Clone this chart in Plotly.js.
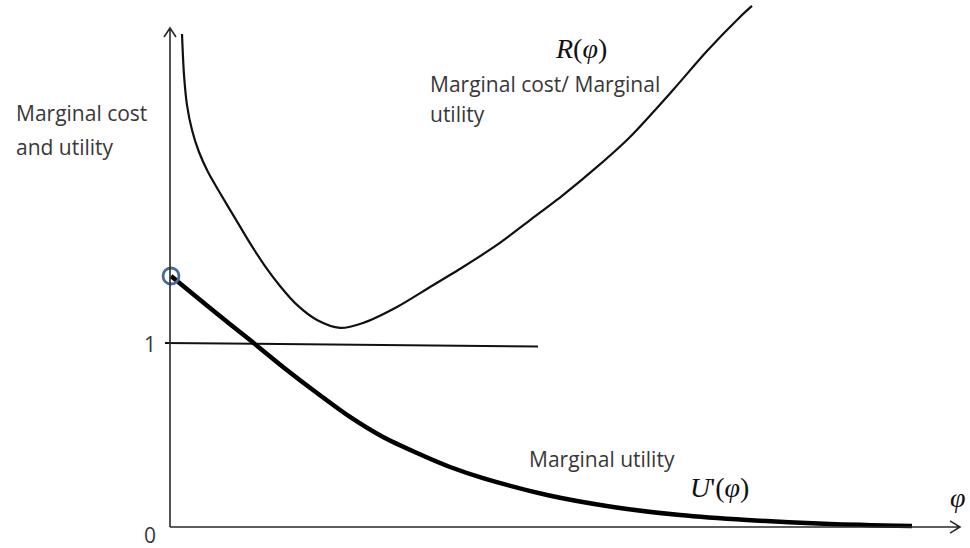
<!DOCTYPE html>
<html>
<head>
<meta charset="utf-8">
<script src="https://cdn.plot.ly/plotly-3.0.1.min.js"></script>
<style>html,body{margin:0;padding:0;background:#fff;}#chart{width:970px;height:548px;}</style>
</head>
<body>
<div id="chart"></div>
<script>
// Marginal cost curve R(phi)
const rPhi = [0.12, 0.14, 0.17, 0.22, 0.29, 0.38, 0.50, 0.65, 0.80, 0.95, 1.10, 1.27, 1.47, 1.70, 1.93, 2.27, 2.60, 2.93, 3.27, 3.60, 3.93, 4.27, 4.60, 5.03, 5.37, 5.70, 5.82];
const rVal = [2.679, 2.457, 2.293, 2.158, 2.038, 1.929, 1.815, 1.679, 1.543, 1.418, 1.310, 1.207, 1.125, 1.082, 1.109, 1.196, 1.304, 1.413, 1.533, 1.668, 1.804, 1.957, 2.120, 2.375, 2.587, 2.772, 2.832];
// Marginal utility curve U'(phi)
const uPhi = [0.01, 0.40, 0.80, 1.13, 1.47, 1.80, 2.13, 2.47, 2.80, 3.13, 3.77, 4.43, 5.10, 5.77, 6.60, 7.42];
const uVal = [1.364, 1.190, 1.016, 0.870, 0.728, 0.598, 0.489, 0.402, 0.326, 0.266, 0.174, 0.109, 0.065, 0.038, 0.016, 0.005];
// Level-one line
const oneX = [-0.05, 3.68];
const oneY = [1.0, 0.981];
// Tick labels
const tickVals = [0, 1];
const tickText = ["0", "1"];

const sans = "Open Sans, Liberation Sans, sans-serif";
const serif = "Liberation Serif, DejaVu Serif, serif";
const grey = "#383838";

const traces = [
  {x: oneX, y: oneY, mode: "lines", line: {color: "#111", width: 2}, hoverinfo: "skip"},
  {x: rPhi, y: rVal, mode: "lines", line: {color: "#111", width: 2.2, shape: "spline", smoothing: 0.8}, hoverinfo: "skip"},
  {x: uPhi, y: uVal, mode: "lines", line: {color: "#000", width: 4.5, shape: "spline", smoothing: 0.7}, hoverinfo: "skip"},
  {x: [uPhi[0]], y: [uVal[0]], mode: "markers", marker: {symbol: "circle-open", size: 16, color: "#4a6b9e", line: {width: 2.8, color: "#4a6b9e"}}, hoverinfo: "skip"}
];

const axisShapes = [
  {type: "path", xref: "x", yref: "y", path: "M 0,0 L 0,2.712 M -0.06,2.663 L 0,2.712 L 0.06,2.663", line: {color: "#2a2a2a", width: 1.6}},
  {type: "path", xref: "x", yref: "y", path: "M 0,0 L 7.90,0 M 7.80,0.033 L 7.90,0 L 7.80,-0.033", line: {color: "#2a2a2a", width: 1.6}}
];

const ann = [
  {x: -1.56, y: 2.25, text: "Marginal cost", xanchor: "left", yanchor: "middle", font: {family: sans, size: 21, color: grey}},
  {x: -1.56, y: 2.065, text: "and utility", xanchor: "left", yanchor: "middle", font: {family: sans, size: 21, color: grey}},
  {x: 2.58, y: 2.408, text: "Marginal cost/ Marginal", xanchor: "left", yanchor: "middle", font: {family: sans, size: 21, color: grey}},
  {x: 2.58, y: 2.245, text: "utility", xanchor: "left", yanchor: "middle", font: {family: sans, size: 21, color: grey}},
  {x: 3.57, y: 0.370, text: "Marginal utility", xanchor: "left", yanchor: "middle", font: {family: sans, size: 21, color: grey}},
  {x: 3.83, y: 2.603, text: "<i>R</i>(<i>φ</i>)", xanchor: "left", yanchor: "middle", font: {family: serif, size: 28, color: "#111"}},
  {x: 5.18, y: 0.217, text: "<i>U</i>'(<i>φ</i>)", xanchor: "left", yanchor: "middle", font: {family: serif, size: 28, color: "#111"}},
  {x: 7.88, y: 0.158, text: "<i>φ</i>", xanchor: "center", yanchor: "middle", font: {family: serif, size: 28, color: "#111"}}
];
tickVals.forEach(function (v, i) {
  ann.push({x: -0.20, y: v - (i === 0 ? 0.042 : 0.005), text: tickText[i], xanchor: "center", yanchor: "middle", font: {family: sans, size: 21, color: grey}});
});
ann.forEach(function (a) { a.showarrow = false; a.xref = "x"; a.yref = "y"; });

const layout = {
  width: 970, height: 548, autosize: false,
  margin: {l: 0, r: 0, t: 0, b: 0, pad: 0},
  paper_bgcolor: "#fff", plot_bgcolor: "#fff",
  showlegend: false,
  xaxis: {range: [-1.70, 8.00], visible: false, fixedrange: true},
  yaxis: {range: [-0.1141, 2.8641], visible: false, fixedrange: true},
  shapes: axisShapes,
  annotations: ann
};

Plotly.newPlot("chart", traces, layout, {staticPlot: true, displayModeBar: false});
</script>
</body>
</html>
